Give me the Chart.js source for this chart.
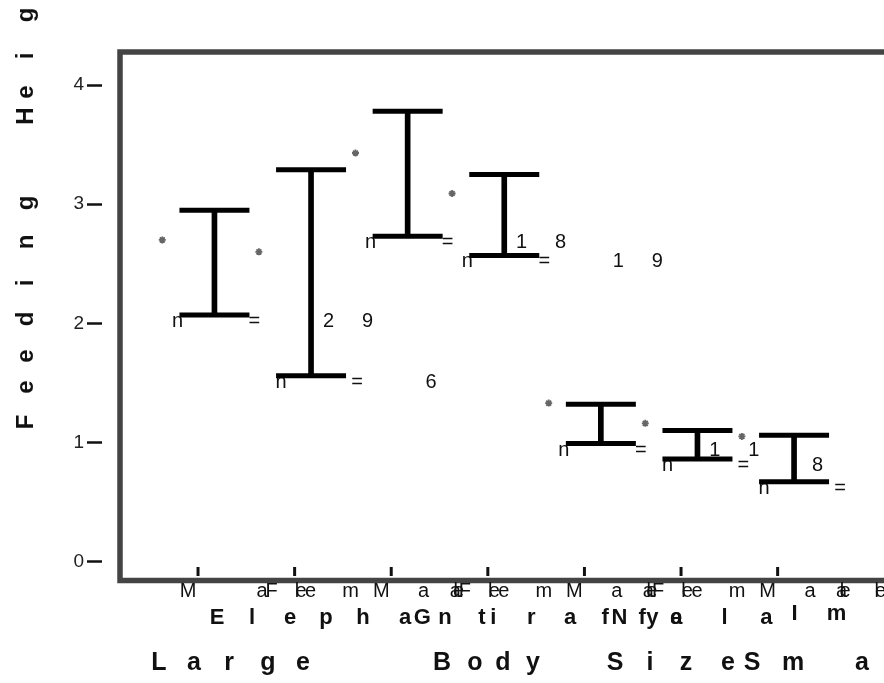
<!DOCTYPE html>
<html>
<head>
<meta charset="utf-8">
<script src="https://cdn.jsdelivr.net/npm/chart.js@4.4.0/dist/chart.umd.min.js"></script>
<style>
  html, body { margin: 0; padding: 0; background: #fff; }
  canvas { display: block; }
</style>
</head>
<body>
<canvas id="heightChart" width="884" height="683"></canvas>
<script>
// data
const categories = ['Male', 'Female', 'Male', 'Female', 'Male', 'Female', 'Male'];
const species = ['Elephant', 'Giraffe', 'Nyala', 'Impala'];
const upper = [2.95, 3.29, 3.78, 3.25, 1.32, 1.10, 1.06];
const lower = [2.07, 1.56, 2.73, 2.57, 0.99, 0.86, 0.67];
const means = [2.70, 2.60, 3.43, 3.09, 1.33, 1.16, 1.05];
const counts = [29, 6, 18, 19, 11, 8, 7];
const yTicks = [0, 1, 2, 3, 4];

const FONT = '"Liberation Sans", Arial, sans-serif';
const BAR_SHIFT = 0.17;   // error bars sit right of the tick
const DOT_SHIFT = -0.37;  // mean dots sit left of it

// the letters come out spread apart in the reference, so each one gets its own offset
const labelDx = {
  Male: [-10, 64, 99, 103],
  Female: [-23, 16, 56, 129, 161, 164]
};
const speciesDx = [
  [19, 54, 92, 128, 165, 207, 247, 284],
  [31, 102, 140, 179, 214, 251, 285],
  [35, 68, 92, 140, 182],
  [17, 59, 120, 160, 200, 240]
];
const xTitle = 'Large  Body Size  Small';
const xTitleX = [159, 194, 229, 268, 303, 442, 475, 503, 533, 615, 650, 686, 728, 752, 793, 862, 897, 932];
const yTitle = 'Feeding Height';
const yTitleY = [422, 387, 356, 319, 283, 242, 203, 116, 92, 56, 15, -20, -55];

function spaced(ctx, text, xs, y) {
  let k = 0;
  for (const ch of text) {
    if (ch === ' ') continue;
    ctx.fillText(ch, xs[k++], y);
  }
}

const decorations = {
  id: 'decorations',
  beforeDatasetsDraw(chart) {
    const ctx = chart.ctx;
    const a = chart.chartArea;
    const xs = chart.scales.x, ys = chart.scales.y;
    ctx.save();

    // frame
    ctx.strokeStyle = '#444';
    ctx.lineWidth = 5.5;
    ctx.beginPath();
    ctx.moveTo(chart.width + 5, a.top);
    ctx.lineTo(a.left + 18, a.top);
    ctx.lineTo(a.left + 18, a.bottom - 1.5);
    ctx.lineTo(chart.width + 5, a.bottom - 1.5);
    ctx.stroke();

    // x tick marks
    ctx.strokeStyle = '#111';
    ctx.lineWidth = 3;
    categories.forEach((c, i) => {
      const px = xs.getPixelForValue(i);
      ctx.beginPath();
      ctx.moveTo(px, a.bottom - 15);
      ctx.lineTo(px, a.bottom - 6);
      ctx.stroke();
    });

    ctx.fillStyle = '#111';
    ctx.textAlign = 'center';
    ctx.textBaseline = 'alphabetic';

    // n = labels under each lower cap
    ctx.font = '20px ' + FONT;
    counts.forEach((n, i) => {
      const px = xs.getPixelForValue(i + BAR_SHIFT);
      const py = ys.getPixelForValue(lower[i]) + 12;
      const d = String(n);
      const parts = d.length > 1
        ? [['n', -37], ['=', 40], [d[0], 114], [d[1], 153]]
        : [['n', -30], ['=', 46], [d, 120]];
      parts.forEach(p => ctx.fillText(p[0], px + p[1], py));
    });

    // sex tick labels
    ctx.font = '20px ' + FONT;
    categories.forEach((c, i) => {
      const px = xs.getPixelForValue(i);
      spaced(ctx, c, labelDx[c].map(d => px + d), a.bottom + 15);
    });

    // species labels
    ctx.font = 'bold 22px ' + FONT;
    species.forEach((s, k) => {
      const px = xs.getPixelForValue(2 * k);
      spaced(ctx, s, speciesDx[k].map(d => px + d), a.bottom + (k === 3 ? 38 : 42));
    });

    // axis titles
    ctx.font = 'bold 25px ' + FONT;
    spaced(ctx, xTitle, xTitleX, a.bottom + 88);
    ctx.font = 'bold 24px ' + FONT;
    let k = 0;
    for (const ch of yTitle) {
      if (ch === ' ') continue;
      ctx.save();
      ctx.translate(33, yTitleY[k++]);
      ctx.rotate(-Math.PI / 2);
      ctx.fillText(ch, 0, 0);
      ctx.restore();
    }
    ctx.restore();
  }
};

const ctx = document.getElementById('heightChart').getContext('2d');
const heightChart = new Chart(ctx, {
  type: 'scatter',
  data: {
    datasets: [
      {
        type: 'bar',
        label: 'range',
        data: categories.map((c, i) => ({ x: i + BAR_SHIFT, y: [lower[i], upper[i]] })),
        backgroundColor: '#000',
        borderWidth: 0,
        barThickness: 5
      },
      {
        label: 'caps',
        data: categories.flatMap((c, i) => [
          { x: i + BAR_SHIFT, y: upper[i] },
          { x: i + BAR_SHIFT, y: lower[i] }
        ]),
        pointStyle: 'line',
        pointRadius: 35,
        pointHoverRadius: 35,
        pointBorderWidth: 5,
        pointBorderColor: '#000',
        showLine: false
      },
      {
        label: 'mean',
        data: categories.map((c, i) => ({ x: i + DOT_SHIFT, y: means[i] })),
        pointStyle: 'star',
        pointRadius: 3.5,
        pointBorderWidth: 1.8,
        pointBorderColor: '#666',
        pointBackgroundColor: '#666',
        showLine: false
      }
    ]
  },
  options: {
    responsive: false,
    animation: false,
    layout: { autoPadding: false, padding: { top: 52, bottom: 101, left: 0, right: 0 } },
    plugins: {
      legend: { display: false },
      tooltip: { enabled: false }
    },
    scales: {
      x: {
        type: 'linear',
        display: false,
        offset: false,
        min: -0.994,
        max: 7.101
      },
      y: {
        type: 'linear',
        position: 'left',
        min: -0.172,
        max: 4.278,
        afterBuildTicks: s => { s.ticks = yTicks.map(v => ({ value: v })); },
        afterFit: s => { s.width = 102; },
        border: { display: false },
        grid: {
          drawOnChartArea: false,
          tickLength: 15,
          tickWidth: 2.5,
          tickColor: '#111'
        },
        ticks: {
          color: '#222',
          padding: 3,
          font: { family: FONT, size: 19 }
        }
      }
    }
  },
  plugins: [decorations]
});
</script>
</body>
</html>
